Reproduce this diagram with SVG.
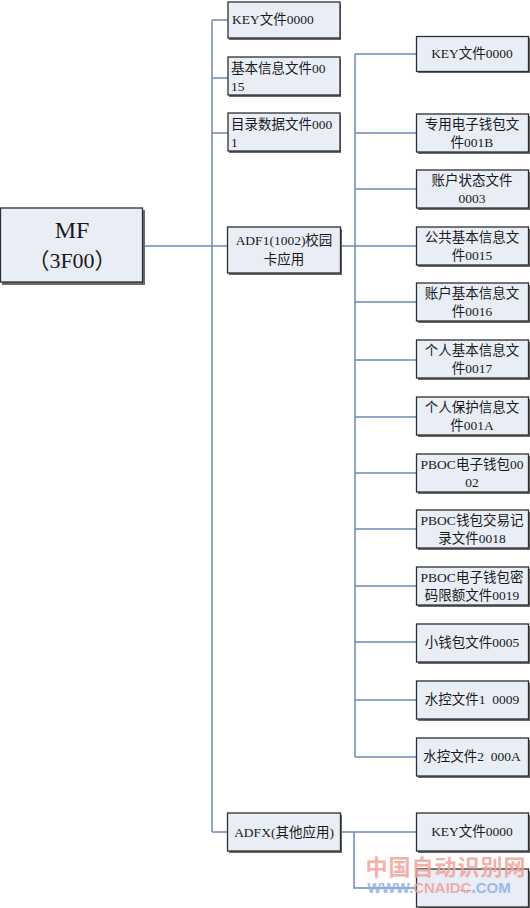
<svg xmlns="http://www.w3.org/2000/svg" width="530" height="908" viewBox="0 0 530 908">
<defs>
<style>
.bx{fill:#e8edf6;stroke:#2e2e2e;stroke-width:1.3}
.sh{fill:#6a6a6a}
.t{font-family:"Liberation Serif","Noto Sans CJK SC",serif;font-size:13.5px;fill:#1a1a1a}
.c{text-anchor:middle}
.ln{stroke:#6d8bb5;stroke-width:1.5;fill:none}
.wm{font-family:"Liberation Sans","Noto Sans CJK SC",sans-serif;font-weight:bold}
</style>
</defs>
<rect width="530" height="908" fill="#ffffff"/>
<g id="connectors">
<path class="ln" d="M212 20V832M212 20H228M212 78H228M212 133H228M212 832H228"/>
<path class="ln" d="M143 246H228" stroke="#4f6f9f"/>
<path class="ln" d="M341 246H355M355 54V757"/>
<path class="ln" d="M355 54H416M355 133H416M355 189H416M355 246H416M355 302H416M355 360H416M355 417H416M355 473H416M355 529H416M355 586H416M355 642H416M355 700H416M355 757H416"/>
<path class="ln" d="M341 832H416M354 832V888H416"/>
</g>
<g id="mf">
<rect class="sh" x="2" y="210" width="143" height="75"/>
<rect class="bx" x="0.5" y="208" width="142" height="74"/>
<text class="t c" x="72" y="238" style="font-size:24px">MF</text>
<text class="t c" x="72" y="268" style="font-size:22px">（3F00）</text>
</g>
<g id="key-mf">
<rect class="sh" x="229" y="4" width="112" height="36"/>
<rect class="bx" x="228" y="2" width="112" height="36"/>
<text class="t" x="232" y="24">KEY文件0000</text>
</g>
<g id="basic-info">
<rect class="sh" x="229" y="59" width="112" height="38"/>
<rect class="bx" x="228" y="57" width="112" height="38"/>
<text class="t" x="231" y="73">基本信息文件00</text>
<text class="t" x="231" y="91">15</text>
</g>
<g id="dir-data">
<rect class="sh" x="229" y="115" width="112" height="38"/>
<rect class="bx" x="228" y="113" width="112" height="38"/>
<text class="t" x="231" y="129">目录数据文件000</text>
<text class="t" x="231" y="147">1</text>
</g>
<g id="adf1">
<rect class="sh" x="229" y="229" width="113" height="46"/>
<rect class="bx" x="227.5" y="227" width="113" height="46"/>
<text class="t c" x="284" y="245">ADF1(1002)校园</text>
<text class="t c" x="284" y="264">卡应用</text>
</g>
<g id="adfx">
<rect class="sh" x="229" y="815" width="113" height="38"/>
<rect class="bx" x="227.5" y="813" width="113" height="38"/>
<text class="t c" x="284" y="837">ADFX(其他应用)</text>
</g>
<g id="r-key">
<rect class="sh" x="418" y="38" width="112" height="35"/>
<rect class="bx" x="416.5" y="36.5" width="112" height="35"/>
<text class="t c" x="472" y="58">KEY文件0000</text>
</g>
<g id="r-001b">
<rect class="sh" x="418" y="116" width="112" height="38"/>
<rect class="bx" x="416.5" y="114" width="112" height="38"/>
<text class="t c" x="472" y="129">专用电子钱包文</text>
<text class="t c" x="472" y="147">件001B</text>
</g>
<g id="r-0003">
<rect class="sh" x="418" y="172" width="112" height="38"/>
<rect class="bx" x="416.5" y="170" width="112" height="38"/>
<text class="t c" x="472" y="185">账户状态文件</text>
<text class="t c" x="472" y="203">0003</text>
</g>
<g id="r-0015">
<rect class="sh" x="418" y="229" width="112" height="38"/>
<rect class="bx" x="416.5" y="227" width="112" height="38"/>
<text class="t c" x="472" y="242">公共基本信息文</text>
<text class="t c" x="472" y="260">件0015</text>
</g>
<g id="r-0016">
<rect class="sh" x="418" y="285" width="112" height="38"/>
<rect class="bx" x="416.5" y="283" width="112" height="38"/>
<text class="t c" x="472" y="298">账户基本信息文</text>
<text class="t c" x="472" y="316">件0016</text>
</g>
<g id="r-0017">
<rect class="sh" x="418" y="342" width="112" height="38"/>
<rect class="bx" x="416.5" y="340" width="112" height="38"/>
<text class="t c" x="472" y="355">个人基本信息文</text>
<text class="t c" x="472" y="373">件0017</text>
</g>
<g id="r-001a">
<rect class="sh" x="418" y="399" width="112" height="38"/>
<rect class="bx" x="416.5" y="397" width="112" height="38"/>
<text class="t c" x="472" y="412">个人保护信息文</text>
<text class="t c" x="472" y="430">件001A</text>
</g>
<g id="r-0002">
<rect class="sh" x="418" y="456" width="112" height="38"/>
<rect class="bx" x="416.5" y="454" width="112" height="38"/>
<text class="t c" x="472" y="469">PBOC电子钱包00</text>
<text class="t c" x="472" y="487">02</text>
</g>
<g id="r-0018">
<rect class="sh" x="418" y="512" width="112" height="38"/>
<rect class="bx" x="416.5" y="510" width="112" height="38"/>
<text class="t c" x="472" y="525">PBOC钱包交易记</text>
<text class="t c" x="472" y="543">录文件0018</text>
</g>
<g id="r-0019">
<rect class="sh" x="418" y="569" width="112" height="38"/>
<rect class="bx" x="416.5" y="567" width="112" height="38"/>
<text class="t c" x="472" y="582">PBOC电子钱包密</text>
<text class="t c" x="472" y="600">码限额文件0019</text>
</g>
<g id="r-0005">
<rect class="sh" x="418" y="626" width="112" height="38"/>
<rect class="bx" x="416.5" y="624" width="112" height="38"/>
<text class="t c" x="472" y="647">小钱包文件0005</text>
</g>
<g id="r-0009">
<rect class="sh" x="418" y="683" width="112" height="38"/>
<rect class="bx" x="416.5" y="681" width="112" height="38"/>
<text class="t c" x="472" y="704" xml:space="preserve">水控文件1  0009</text>
</g>
<g id="r-000a">
<rect class="sh" x="418" y="740" width="112" height="38"/>
<rect class="bx" x="416.5" y="738" width="112" height="38"/>
<text class="t c" x="472" y="761" xml:space="preserve">水控文件2  000A</text>
</g>
<g id="x-key">
<rect class="sh" x="418" y="815" width="112" height="38"/>
<rect class="bx" x="416.5" y="813" width="112" height="38"/>
<text class="t c" x="472" y="836">KEY文件0000</text>
</g>
<g id="x-more">
<rect class="sh" x="418" y="871" width="112" height="38"/>
<rect class="bx" x="416.5" y="869" width="112" height="38"/>
<text class="t c" x="466" y="891" style="font-size:9px">……</text>
</g>
<g id="watermark" opacity="0.85">
<text class="wm" x="446" y="875" text-anchor="middle" font-size="22" fill="#f2a39b" letter-spacing="1">中国自动识别网</text>
<text class="wm" x="439" y="893" text-anchor="middle" font-size="15" fill="#8fb1e2"><tspan>WWW.</tspan><tspan fill="#f2a39b">CNAIDC</tspan><tspan>.COM</tspan></text>
</g>
</svg>
